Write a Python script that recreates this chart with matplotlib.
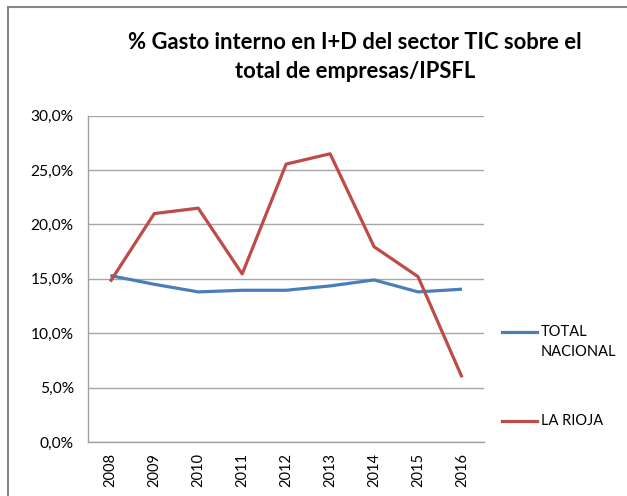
import matplotlib
matplotlib.use("Agg")
import matplotlib.pyplot as plt
from matplotlib.ticker import FuncFormatter
from matplotlib.patches import Rectangle

years = ["2008", "2009", "2010", "2011", "2012", "2013", "2014", "2015", "2016"]
total_nacional = [15.3, 14.5, 13.8, 13.95, 13.95, 14.35, 14.9, 13.8, 14.05]
la_rioja = [14.75, 21.0, 21.5, 15.45, 25.55, 26.5, 17.95, 15.2, 5.95]
title = "% Gasto interno en I+D del sector TIC sobre el\ntotal de empresas/IPSFL"
series_names = ["TOTAL\nNACIONAL", "LA RIOJA"]

plt.rcParams['font.family'] = ['Lato', 'DejaVu Sans']

fig = plt.figure(figsize=(6.27, 4.96), dpi=100)
ax = fig.add_axes([88.3/627, 1-442/496, (484-88.3)/627, (442-115.7)/496])

x = list(range(len(years)))
ax.plot(x, total_nacional, color="#4A7EBB", lw=2.3, solid_capstyle="butt", zorder=3)
ax.plot(x, la_rioja, color="#BE4B48", lw=2.3, solid_capstyle="butt", zorder=3)

ax.set_xlim(-0.5, len(years) - 0.5)
ax.set_ylim(0, 30)
ax.set_yticks([0, 5, 10, 15, 20, 25, 30])
ax.yaxis.set_major_formatter(FuncFormatter(lambda v, p: f"{v:.1f}%".replace(".", ",")))
ax.set_xticks(x)
ax.set_xticklabels(years, rotation=90)
ax.tick_params(axis="y", length=0, pad=10.5, labelsize=11.2, colors="#000000")
ax.tick_params(axis="x", length=0, pad=8, labelsize=10.5)
ax.grid(axis="y", color="#A6A6A6", lw=1)
ax.set_axisbelow(True)
for s in ["top", "right"]:
    ax.spines[s].set_visible(False)
for s in ["left", "bottom"]:
    ax.spines[s].set_color("#A0A0A0")
    ax.spines[s].set_linewidth(1)

fig.text(355/627, 1-57/496, title, ha="center", va="center", fontsize=15.8,
         fontweight="bold", linespacing=1.5)

# legend
fig.add_artist(plt.Line2D([502/627, 537/627], [1-332/496, 1-332/496], color="#4A7EBB", lw=2.3))
fig.text(541/627, 1-332/496, "TOTAL", ha="left", va="center", fontsize=10.5)
fig.text(541/627, 1-352/496, "NACIONAL", ha="left", va="center", fontsize=10.5)
fig.add_artist(plt.Line2D([502/627, 537/627], [1-421/496, 1-421/496], color="#BE4B48", lw=2.3))
fig.text(541/627, 1-421/496, series_names[1], ha="left", va="center", fontsize=10.5)

# outer frame
fig.add_artist(Rectangle((7.5/627, -0.1), 1.2, 1 - 7/496 + 0.1, transform=fig.transFigure,
                         fill=False, edgecolor="#888888", lw=1.5))

fig.savefig("out.png", dpi=100)
